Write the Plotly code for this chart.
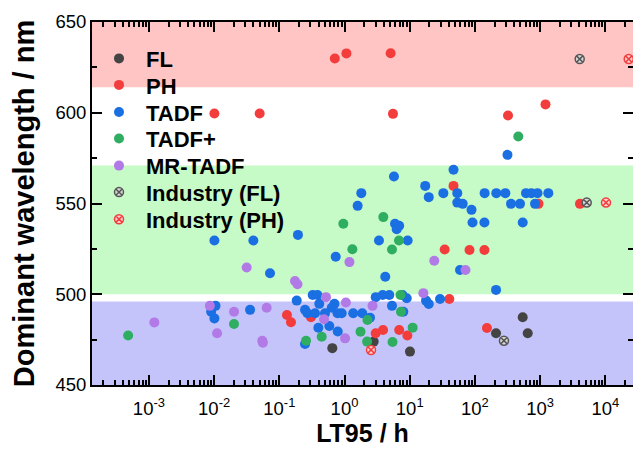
import plotly.graph_objects as go

# ---------------- data ----------------
fl_x = [0.65, 2.8, 10.1, 211, 541, 646]
fl_y = [470.3, 473.9, 468.4, 478.5, 487.3, 478.5]

ph_x = [0.71, 1.07, 5.1, 0.0101, 0.05, 5.54, 322, 1210, 47, 34.4, 82.7, 140,
        945, 4090, 40.5, 0.131, 0.151, 0.306, 3.01, 3.9, 6.9, 9.2, 153]
ph_y = [629.9, 632.7, 632.8, 599.6, 599.6, 599.4, 598.5, 604.6, 559.7, 524.7, 524.4, 524.4,
        549.8, 549.8, 497.4, 488.6, 484.6, 487.3, 478.5, 480.3, 480.3, 477.3, 481.4]

tadf_x = [316, 5.74, 47, 17.3, 1.81, 19.6, 32.8, 53.7, 53.7, 65, 1.59, 88.7,
          141, 213, 293, 608, 735, 912, 1336,
          358, 492, 836,
          5.95, 6.9, 6.32,
          91.9, 140, 541,
          0.0101, 0.04, 0.193, 3.38, 9.3, 0.733, 0.072, 4.22, 59.1, 211,
          0.325, 0.385, 3.01, 3.85, 4.87, 7.76, 9.0,
          0.185, 0.41, 0.70, 0.637, 0.248, 0.27, 0.0356, 0.0105, 0.009, 0.0101,
          0.353, 0.502, 0.78, 0.906, 1.36, 1.87,
          2.46, 5.35, 7.98, 17.8, 19.6, 29.2,
          0.397, 0.585, 0.787, 0.248]
tadf_y = [576.8, 564.9, 568.6, 559.7, 555.7, 553.5, 555.7, 555.7, 550.5, 549.8, 548.7, 546.5,
          555.7, 555.7, 555.7, 555.7, 555.7, 555.7, 555.7,
          549.8, 549.8, 549.8,
          538.8, 537.7, 535.8,
          539.5, 539.5, 539.5,
          529.6, 529.6, 532.7, 529.6, 529.6, 520.7, 511.6, 509.6, 513.4, 502.4,
          499.6, 499.6, 498.4, 499.6, 499.6, 499.6, 497.8,
          496.5, 494.7, 494.7, 492.6, 491.4, 489.5, 491.4, 493.6, 490.4, 486.7,
          489.5, 489.5, 489.5, 489.5, 489.5, 489.5,
          487.1, 493.6, 490.4, 496.5, 494.6, 497.4,
          481.5, 482.5, 479.5, 472.6]

tadfp_x = [463, 3.94, 0.959, 6.85, 1.32, 5.35, 7.22, 7.35, 2.25, 1.76, 11.1, 0.447,
           0.257, 2.22, 5.45, 0.0202, 0.00048]
tadfp_y = [586.9, 542.5, 538.8, 529.6, 524.8, 524.7, 499.6, 490.4, 485.8, 479.4, 481.6, 476.6,
           474.4, 473.9, 473.7, 483.6, 477.3]

mr_x = [1.19, 23.8, 71.7, 0.0316, 0.174, 0.19, 0.52, 1.05, 16.2, 2.69, 0.064, 0.0202,
        0.0086, 0.485, 0.00121, 0.0111, 1.02, 0.0548, 0.056]
mr_y = [517.7, 518.5, 513.4, 514.7, 507.3, 505.5, 498.4, 495.5, 500.6, 493.6, 492.6, 490.4,
        493.6, 486.2, 484.5, 478.5, 475.7, 474.4, 473.3]

ind_fl_x = [4050, 5190, 279]
ind_fl_y = [629.6, 550.5, 474.4]
ind_ph_x = [22860, 10250, 2.55]
ind_ph_y = [629.6, 550.5, 469.3]

# bands: (low, high, colour)
band_low = [614, 500, 450]
band_high = [650, 571, 496]
band_col = ["#ffc4c4", "#c6fac6", "#c4c4fa"]

x_tickvals = [1e-3, 1e-2, 1e-1, 1, 10, 100, 1000, 10000]
x_ticktext = ["10<sup>-3</sup>", "10<sup>-2</sup>", "10<sup>-1</sup>", "10<sup>0</sup>",
              "10<sup>1</sup>", "10<sup>2</sup>", "10<sup>3</sup>", "10<sup>4</sup>"]

# ---------------- figure ----------------
fig = go.Figure()

# (name, x, y, marker dict, legend)
series = [
    ("FL", fl_x, fl_y, dict(color="#444444", size=10, symbol="circle", line=dict(width=0)), "legend"),
    ("PH", ph_x, ph_y, dict(color="#f33d3d", size=10, symbol="circle", line=dict(width=0)), "legend2"),
    ("TADF", tadf_x, tadf_y, dict(color="#1a6fe3", size=10, symbol="circle", line=dict(width=0)), "legend"),
    ("TADF+", tadfp_x, tadfp_y, dict(color="#2fae62", size=10, symbol="circle", line=dict(width=0)), "legend2"),
    ("MR-TADF", mr_x, mr_y, dict(color="#b27ae6", size=10, symbol="circle", line=dict(width=0)), "legend"),
    ("Industry (FL)", ind_fl_x, ind_fl_y,
     dict(symbol="circle-x", size=9, color="#d8d8d8", line=dict(color="#555555", width=1.5)), "legend2"),
    ("Industry (PH)", ind_ph_x, ind_ph_y,
     dict(symbol="circle-x", size=9, color="#ffd0d0", line=dict(color="#f33d3d", width=1.5)), "legend"),
]
for i, (name, xs, ys, mk, lg) in enumerate(series):
    fig.add_trace(go.Scatter(x=xs, y=ys, mode="markers", name=name, legendgroup=str(i),
                             legend=lg, marker=mk))

for lo, hi, c in zip(band_low, band_high, band_col):
    fig.add_shape(type="rect", xref="paper", yref="y", x0=0, x1=1, y0=lo, y1=hi,
                  fillcolor=c, line=dict(width=0), layer="below")

legend_font = dict(size=22, family="Liberation Sans, Arial", weight="bold", color="black")
fig.update_layout(
    width=625, height=440,
    margin=dict(l=84, r=0, t=14, b=63),
    paper_bgcolor="white", plot_bgcolor="white",
    font=dict(family="Liberation Sans, Arial", color="black"),
    showlegend=True,
    legend=dict(x=0.0, y=0.957, xanchor="left", yanchor="top", itemwidth=44,
                bgcolor="rgba(0,0,0,0)", tracegroupgap=22, font=legend_font),
    legend2=dict(x=0.0, y=0.884, xanchor="left", yanchor="top", itemwidth=44,
                 bgcolor="rgba(0,0,0,0)", tracegroupgap=22, font=legend_font),
)

fig.update_xaxes(
    type="log", range=[-3.873, 4.425],
    tickvals=x_tickvals, ticktext=x_ticktext,
    ticks="inside", ticklen=10, tickwidth=2, tickcolor="black",
    minor=dict(ticks="inside", ticklen=5, tickwidth=1.5, tickcolor="black", dtick="D1", showgrid=False),
    showline=True, linecolor="black", linewidth=2, mirror="allticks",
    showgrid=False, zeroline=False, automargin=False,
    tickfont=dict(size=18.5), ticklabelstandoff=6,
    title=dict(text="<b>LT95 / h</b>", font=dict(size=25), standoff=4),
)
fig.update_yaxes(
    range=[450, 650], tickvals=[450, 500, 550, 600, 650],
    ticks="inside", ticklen=10, tickwidth=2, tickcolor="black",
    minor=dict(ticks="inside", ticklen=5, tickwidth=1.5, tickcolor="black", dtick=25, showgrid=False),
    showline=True, linecolor="black", linewidth=2, mirror="allticks",
    showgrid=False, zeroline=False, automargin=False,
    tickfont=dict(size=18.5),
    title=dict(text="<b>Dominant wavelength / nm</b>", font=dict(size=29), standoff=16),
)

fig.write_html("out.html")
